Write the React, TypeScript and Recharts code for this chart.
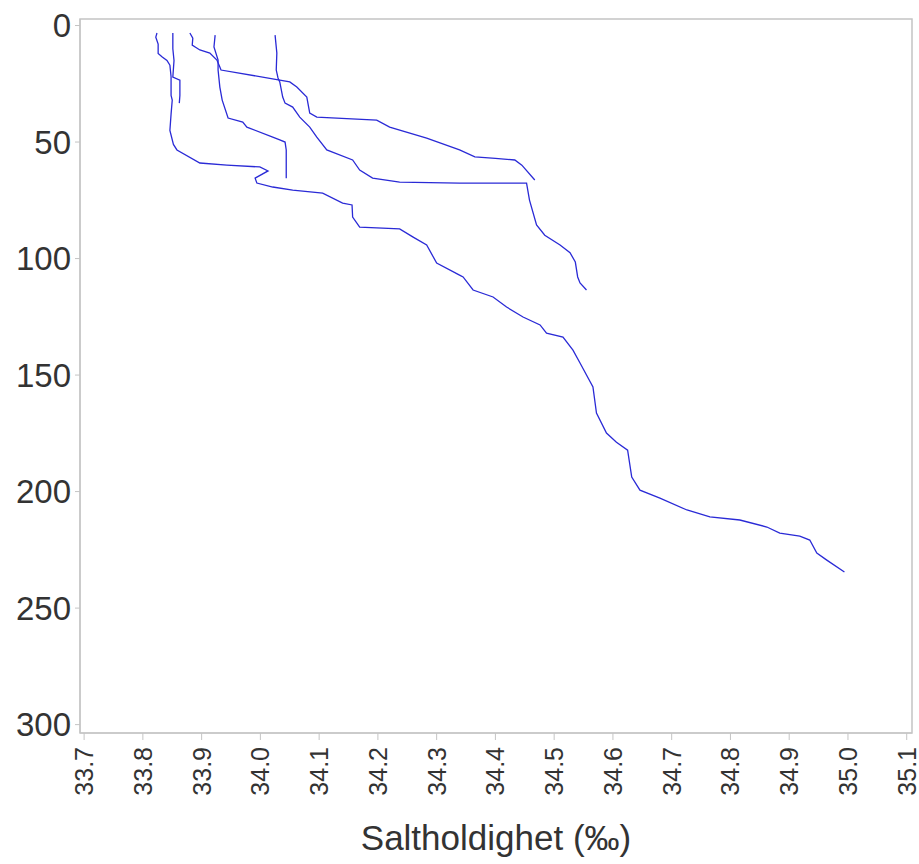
import React from 'react';
import { LineChart, Line, XAxis, YAxis, ReferenceArea } from 'recharts';

// CTD-profiler: saltholdighet (‰) mot dybde (m)
const profile1Salt = [33.824, 33.822, 33.826, 33.826, 33.833, 33.841, 33.846, 33.848, 33.848, 33.850, 33.848, 33.846, 33.852, 33.858, 33.897, 33.943, 33.999, 34.013, 33.991, 33.994, 34.021, 34.055, 34.106, 34.140, 34.156, 34.157, 34.169, 34.237, 34.260, 34.283, 34.300, 34.339, 34.345, 34.362, 34.396, 34.419, 34.447, 34.476, 34.487, 34.515, 34.532, 34.544, 34.566, 34.572, 34.589, 34.606, 34.625, 34.632, 34.646, 34.680, 34.726, 34.765, 34.816, 34.862, 34.884, 34.918, 34.935, 34.947, 34.964, 34.994];
const profile1Depth = [3.2, 5, 8, 12, 13.5, 15, 17, 22, 30, 32, 38, 45, 51, 53.4, 59.0, 59.9, 60.7, 62.4, 65.5, 67.6, 69.3, 70.6, 71.9, 76.2, 77.0, 82.2, 86.5, 87.3, 90.8, 94.2, 101.9, 107.1, 107.9, 113.5, 116.5, 120.8, 125.1, 128.5, 132.0, 133.7, 139.3, 144.8, 155.1, 166.3, 174.9, 178.8, 182.2, 193.8, 199.4, 202.8, 207.9, 210.9, 212.2, 215.2, 217.8, 219.1, 220.8, 226.4, 229.4, 234.5];

const profile2Salt = [33.851, 33.851, 33.853, 33.851, 33.863, 33.863, 33.862];
const profile2Depth = [3.2, 10, 15, 22.1, 23.4, 30, 33.3];

const profile3Salt = [33.880, 33.885, 33.884, 33.889, 33.897, 33.914, 33.926, 33.931, 33.933, 34.033, 34.050, 34.062, 34.079, 34.084, 34.096, 34.198, 34.220, 34.283, 34.339, 34.365, 34.400, 34.433, 34.445, 34.467];
const profile3Depth = [3.2, 5.4, 8.4, 9.2, 10.5, 11.8, 14.8, 17.8, 19.1, 23.4, 24.2, 26.4, 30.7, 37.6, 39.3, 40.6, 43.6, 48.3, 53.4, 56.4, 57.0, 57.7, 59.9, 66.3];

const profile4Salt = [33.923, 33.921, 33.928, 33.928, 33.931, 33.935, 33.945, 33.970, 33.977, 34.021, 34.033, 34.042, 34.044, 34.044];
const profile4Depth = [4.1, 9.2, 14.8, 19.1, 26.4, 32.0, 39.7, 41.4, 43.6, 47.9, 49.1, 50.0, 53.4, 65.5];

const profile5Salt = [34.025, 34.028, 34.027, 34.030, 34.033, 34.038, 34.042, 34.055, 34.067, 34.084, 34.096, 34.113, 34.157, 34.169, 34.191, 34.237, 34.339, 34.453, 34.458, 34.470, 34.484, 34.510, 34.527, 34.536, 34.540, 34.544, 34.555];
const profile5Depth = [4.1, 11.8, 19.1, 22.5, 24.2, 30.7, 33.3, 35.0, 39.3, 43.6, 47.9, 53.4, 57.7, 62.0, 65.5, 67.2, 67.6, 67.6, 74.9, 85.6, 90.0, 94.2, 97.5, 101.5, 107.9, 110.5, 113.5];

const xTicks = [33.7, 33.8, 33.9, 34.0, 34.1, 34.2, 34.3, 34.4, 34.5, 34.6, 34.7, 34.8, 34.9, 35.0, 35.1];
const yTicks = [0, 50, 100, 150, 200, 250, 300];

const X_DOMAIN: [number, number] = [33.693, 35.109];
const Y_DOMAIN: [number, number] = [-2.8, 303.6];

const toPoints = (salt: number[], depth: number[]) => salt.map((s, i) => ({ salt: s, depth: depth[i] }));

const profiles = [
    toPoints(profile1Salt, profile1Depth),
    toPoints(profile2Salt, profile2Depth),
    toPoints(profile3Salt, profile3Depth),
    toPoints(profile4Salt, profile4Depth),
    toPoints(profile5Salt, profile5Depth),
];

const FONT = '"Liberation Sans", Arial, sans-serif';
const FRAME = '#c4c4c4';
const LINE = '#2a2ad6';

const XTick = ({ x, y, payload }: any) => (
    <g transform={`translate(${x},${y})`}>
        <text x={-5} y={0} dy="0.36em" transform="rotate(-90)" textAnchor="end" fill="#333" fontSize={25} fontFamily={FONT}>
            {payload.value.toFixed(1)}
        </text>
    </g>
);

export default function App() {
    return (
        <div style={{ position: 'absolute', left: 0, top: 0, background: '#fff' }}>
            <LineChart width={919} height={864} margin={{ top: 19, right: 7, bottom: 10, left: 0 }}>
                <XAxis
                    xAxisId="main"
                    dataKey="salt"
                    type="number"
                    domain={X_DOMAIN}
                    ticks={xTicks}
                    interval={0}
                    allowDataOverflow
                    height={121}
                    tickSize={7}
                    axisLine={{ stroke: FRAME }}
                    tickLine={{ stroke: FRAME }}
                    tick={<XTick />}
                    label={{ value: 'Saltholdighet (‰)', position: 'insideBottom', offset: 4, fontSize: 35, fill: '#333', fontFamily: FONT }}
                />
                <YAxis
                    yAxisId="main"
                    dataKey="depth"
                    type="number"
                    reversed
                    domain={Y_DOMAIN}
                    ticks={yTicks}
                    interval={0}
                    allowDataOverflow
                    width={80}
                    tickSize={5}
                    tickMargin={4}
                    axisLine={{ stroke: FRAME }}
                    tickLine={{ stroke: FRAME }}
                    tick={{ fontSize: 33, fill: '#333', fontFamily: FONT }}
                />
                <ReferenceArea
                    xAxisId="main"
                    yAxisId="main"
                    x1={X_DOMAIN[0]}
                    x2={X_DOMAIN[1]}
                    y1={Y_DOMAIN[0]}
                    y2={Y_DOMAIN[1]}
                    fill="none"
                    stroke={FRAME}
                    strokeWidth={1.5}
                />
                {profiles.map((data, i) => (
                    <Line
                        key={`profile-${i}`}
                        xAxisId="main"
                        yAxisId="main"
                        data={data}
                        dataKey="depth"
                        type="linear"
                        stroke={LINE}
                        strokeWidth={1.3}
                        dot={false}
                        activeDot={false}
                        isAnimationActive={false}
                    />
                ))}
            </LineChart>
        </div>
    );
}
